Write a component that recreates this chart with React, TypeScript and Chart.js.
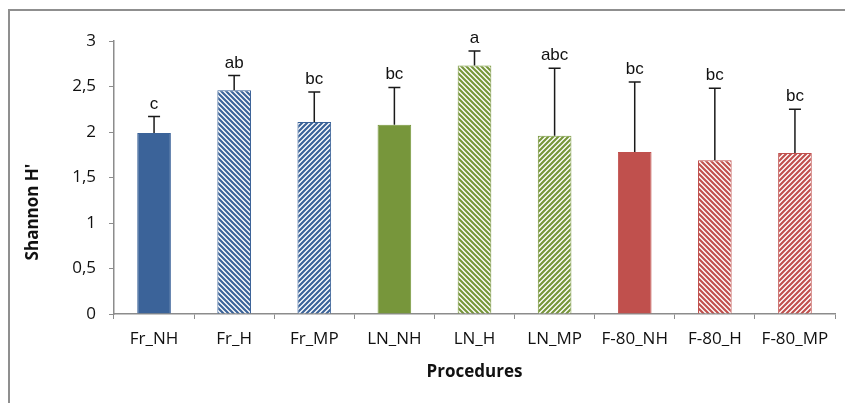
import React, { useEffect, useRef } from "react";
import { Chart, registerables } from "chart.js";

Chart.register(...registerables);

const categories = ["Fr_NH", "Fr_H", "Fr_MP", "LN_NH", "LN_H", "LN_MP", "F-80_NH", "F-80_H", "F-80_MP"];
const means = [1.99, 2.46, 2.11, 2.08, 2.73, 1.96, 1.78, 1.69, 1.77];
const sds = [0.18, 0.16, 0.33, 0.41, 0.16, 0.74, 0.77, 0.79, 0.48];
const letters = ["c", "ab", "bc", "bc", "a", "abc", "bc", "bc", "bc"];
const groupColors = ["#3b6399", "#3b6399", "#3b6399", "#77963b", "#77963b", "#77963b", "#c0504d", "#c0504d", "#c0504d"];
const fillKinds = ["solid", "back", "fwd", "solid", "back", "fwd", "solid", "back", "fwd"];
const yTicks = [0, 0.5, 1, 1.5, 2, 2.5, 3];

function makePattern(color: string, kind: string): CanvasPattern | string {
  if (kind === "solid") return color;
  const s = 5;
  const c = document.createElement("canvas");
  c.width = s;
  c.height = s;
  const g = c.getContext("2d")!;
  g.fillStyle = "#ffffff";
  g.fillRect(0, 0, s, s);
  g.strokeStyle = color;
  g.lineWidth = 2.2;
  g.beginPath();
  if (kind === "back") {
    for (let k = -1; k <= 1; k++) {
      g.moveTo(k * s - 1, -1);
      g.lineTo(k * s + s + 1, s + 1);
    }
  } else {
    for (let k = -1; k <= 1; k++) {
      g.moveTo(k * s - 1, s + 1);
      g.lineTo(k * s + s + 1, -1);
    }
  }
  g.stroke();
  return g.createPattern(c, "repeat")!;
}

const annotPlugin = {
  id: "annot",
  afterDatasetsDraw(chart: any) {
    const ctx = chart.ctx;
    const meta = chart.getDatasetMeta(0);
    const yScale = chart.scales.y;
    ctx.save();
    meta.data.forEach((bar: any, i: number) => {
      const x = bar.x;
      const yTop = yScale.getPixelForValue(means[i] + sds[i]);
      const yBase = yScale.getPixelForValue(means[i]);
      ctx.strokeStyle = "#1a1a1a";
      ctx.lineWidth = 1.5;
      ctx.beginPath();
      ctx.moveTo(x, yBase);
      ctx.lineTo(x, yTop);
      ctx.moveTo(x - 6, yTop);
      ctx.lineTo(x + 6, yTop);
      ctx.stroke();
      ctx.fillStyle = "#111";
      ctx.font = "17px 'Liberation Sans', Arial, sans-serif";
      ctx.textAlign = "center";
      ctx.textBaseline = "alphabetic";
      ctx.fillText(letters[i], x, yTop - 8);
    });
    // axis titles
    ctx.font = "bold 17px 'Open Sans', sans-serif";
    ctx.fillStyle = "#111";
    ctx.textAlign = "center";
    ctx.textBaseline = "middle";
    const area = chart.chartArea;
    ctx.fillText("Procedures", (area.left + area.right) / 2, 372);
    ctx.translate(33, 212);
    ctx.rotate(-Math.PI / 2);
    ctx.fillText("Shannon H'", 0, 0);
    ctx.restore();
  },
};

export default function App() {
  const ref = useRef<HTMLCanvasElement | null>(null);
  useEffect(() => {
    document.body.style.margin = "0";
    const canvas = ref.current!;
    const colors = groupColors.map((c, i) => makePattern(c, fillKinds[i]));
    const chart = new Chart(canvas, {
      type: "bar",
      data: {
        labels: categories,
        datasets: [
          {
            data: means,
            backgroundColor: colors as any,
            borderColor: groupColors,
            borderWidth: 1,
            barPercentage: 0.42,
            categoryPercentage: 1,
          },
        ],
      },
      options: {
        animation: false,
        responsive: false,
        maintainAspectRatio: false,
        layout: { padding: { top: 41, right: 10, left: 0, bottom: 0 } },
        plugins: { legend: { display: false }, tooltip: { enabled: false }, title: { display: false } },
        scales: {
          x: {
            grid: { display: true, drawOnChartArea: false, offset: true, tickLength: 5, color: "#8c8c8c", lineWidth: 1 },
            border: { color: "#8c8c8c", width: 1.5 },
            ticks: { color: "#111", font: { family: "'Open Sans', sans-serif", size: 17 }, padding: 10, maxRotation: 0 },
            afterFit: (s: any) => {
              s.height = 89;
            },
          },
          y: {
            min: 0,
            max: 3,
            afterBuildTicks: (s: any) => {
              s.ticks = yTicks.map((v) => ({ value: v }));
            },
            grid: { display: true, drawOnChartArea: false, tickLength: 5, color: "#8c8c8c" },
            border: { color: "#8c8c8c", width: 1.5 },
            ticks: {
              color: "#111",
              font: { family: "'Open Sans', sans-serif", size: 17 },
              padding: 13,
              callback: (v: any) => String(v).replace(".", ","),
            },
            afterFit: (s: any) => {
              s.width = 114;
            },
          },
        },
      },
      plugins: [annotPlugin],
    });
    return () => chart.destroy();
  }, []);
  return (
    <div style={{ position: "relative", width: 845, height: 403, overflow: "hidden", background: "#fff" }}>
      <div
        style={{
          position: "absolute",
          left: 8,
          top: 9,
          width: 845,
          height: 403,
          borderLeft: "2px solid #8f8f8f",
          borderTop: "2px solid #8f8f8f",
        }}
      />
      <canvas ref={ref} width={845} height={403} style={{ position: "absolute", left: 0, top: 0 }} />
    </div>
  );
}
